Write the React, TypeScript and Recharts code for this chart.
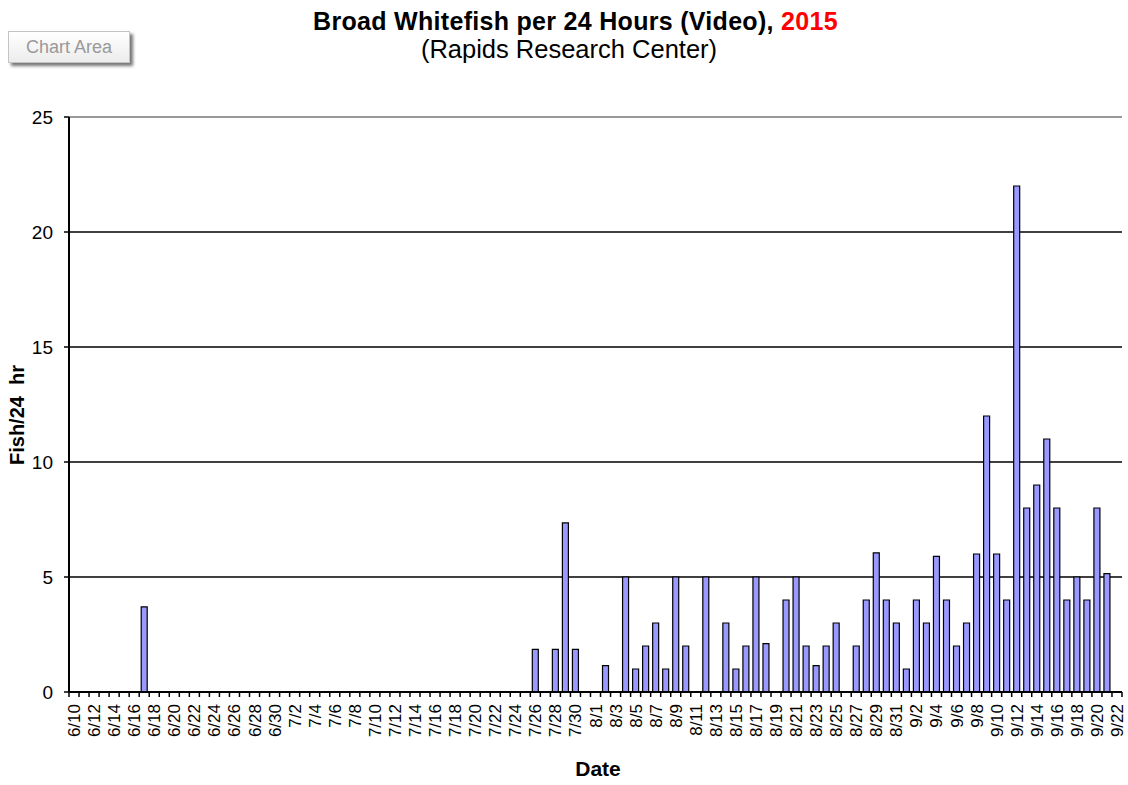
import { BarChart, Bar, XAxis, YAxis, CartesianGrid, ReferenceLine } from "recharts";

const juneDates = ["6/10","6/11","6/12","6/13","6/14","6/15","6/16","6/17","6/18","6/19","6/20","6/21","6/22","6/23","6/24","6/25","6/26","6/27","6/28","6/29","6/30"];
const julyDates = ["7/1","7/2","7/3","7/4","7/5","7/6","7/7","7/8","7/9","7/10","7/11","7/12","7/13","7/14","7/15","7/16","7/17","7/18","7/19","7/20","7/21","7/22","7/23","7/24","7/25","7/26","7/27","7/28","7/29","7/30","7/31"];
const augDates = ["8/1","8/2","8/3","8/4","8/5","8/6","8/7","8/8","8/9","8/10","8/11","8/12","8/13","8/14","8/15","8/16","8/17","8/18","8/19","8/20","8/21","8/22","8/23","8/24","8/25","8/26","8/27","8/28","8/29","8/30","8/31"];
const sepDates = ["9/1","9/2","9/3","9/4","9/5","9/6","9/7","9/8","9/9","9/10","9/11","9/12","9/13","9/14","9/15","9/16","9/17","9/18","9/19","9/20","9/21","9/22"];

const juneFish = [0,0,0,0,0,0,0,3.7,0,0,0,0,0,0,0,0,0,0,0,0,0];
const julyFish = [0,0,0,0,0,0,0,0,0,0,0,0,0,0,0,0,0,0,0,0,0,0,0,0,0,1.85,0,1.85,7.35,1.85,0];
const augFish = [0,1.15,0,5,1,2,3,1,5,2,0,5,0,3,1,2,5,2.1,0,4,5,2,1.15,2,3,0,2,4,6.05,4,3];
const sepFish = [1,4,3,5.9,4,2,3,6,12,6,4,22,8,9,11,8,4,5,4,8,5.15,0];

const yTicks = [0, 5, 10, 15, 20, 25];
const gridValues = [5, 10, 15, 20];

const dates = [...juneDates, ...julyDates, ...augDates, ...sepDates];
const fish = [...juneFish, ...julyFish, ...augFish, ...sepFish];
const data = dates.map((date, i) => ({ date, fish: fish[i] }));

const W = 1128;
const H = 785;
const M = { top: 117, right: 6, bottom: 23, left: 1 };
const Y_W = 68;
const X_H = 70;
const PLOT_W = W - M.left - M.right - Y_W;
const HALF = PLOT_W / dates.length / 2;

const FONT = "'Liberation Sans', Arial, sans-serif";

const DateTick = (props: any) => {
  const { x, y, payload } = props;
  return (
    <g transform={`translate(${x},${y})`}>
      <line x1={-HALF} y1={-5} x2={-HALF} y2={0} stroke="#000" strokeWidth={1.5} />
      <line x1={HALF} y1={-5} x2={HALF} y2={0} stroke="#000" strokeWidth={1.5} />
      <text
        transform="rotate(-90)"
        x={-7}
        y={0}
        dy={6}
        textAnchor="end"
        fontSize={17}
        fontFamily={FONT}
        fill="#000"
      >
        {payload.value}
      </text>
    </g>
  );
};

export default function App() {
  return (
    <div style={{ position: "absolute", left: 0, top: 0, width: W, height: H, background: "#fff", fontFamily: FONT }}>
      <div
        style={{
          position: "absolute",
          left: 8,
          top: 31,
          width: 120,
          height: 30,
          border: "1px solid #c4c4c4",
          background: "linear-gradient(#ffffff, #ececec)",
          boxShadow: "3px 3px 3px #777",
          color: "#999",
          fontSize: 18,
          lineHeight: "30px",
          textAlign: "center",
        }}
      >
        Chart Area
      </div>
      <div style={{ position: "absolute", left: 0, width: 1151, top: 7, textAlign: "center", fontSize: 25, letterSpacing: 0.3, fontWeight: "bold", color: "#000", whiteSpace: "nowrap" }}>
        Broad Whitefish per 24 Hours (Video), <span style={{ color: "#f00" }}>2015</span>
      </div>
      <div style={{ position: "absolute", left: 0, width: 1138, top: 35, textAlign: "center", fontSize: 25.5, color: "#000", whiteSpace: "nowrap" }}>
        (Rapids Research Center)
      </div>
      <div
        style={{
          position: "absolute",
          left: 17,
          top: 415,
          transform: "translate(-50%, -50%) rotate(-90deg)",
          fontSize: 20,
          fontWeight: "bold",
          whiteSpace: "pre",
        }}
      >
        Fish/24  hr
      </div>
      <div style={{ position: "absolute", left: 598, top: 769, transform: "translate(-50%, -50%)", fontSize: 21, fontWeight: "bold" }}>
        Date
      </div>
      <BarChart width={W} height={H} data={data} margin={M} barSize={6}>
        <CartesianGrid vertical={false} horizontalValues={gridValues} stroke="#000" strokeWidth={1.5} />
        <XAxis
          dataKey="date"
          interval={1}
          height={X_H}
          tickSize={5}
          tickMargin={0}
          tickLine={false}
          tick={<DateTick />}
          axisLine={{ stroke: "#000", strokeWidth: 2 }}
        />
        <YAxis
          domain={[0, 25]}
          ticks={yTicks}
          width={Y_W}
          tickSize={5}
          tickMargin={11}
          tick={{ fontSize: 19, fill: "#000", fontFamily: FONT }}
          tickLine={{ stroke: "#000", strokeWidth: 1.5 }}
          axisLine={{ stroke: "#000", strokeWidth: 2 }}
        />
        <YAxis yAxisId="right" orientation="right" width={0} domain={[0, 25]} tick={false} tickLine={false} axisLine={{ stroke: "#999", strokeWidth: 2 }} />
        <ReferenceLine y={25} stroke="#999" strokeWidth={2} />
        <Bar dataKey="fish" fill="#9999ff" stroke="#000" strokeWidth={1.2} isAnimationActive={false} />
      </BarChart>
    </div>
  );
}
